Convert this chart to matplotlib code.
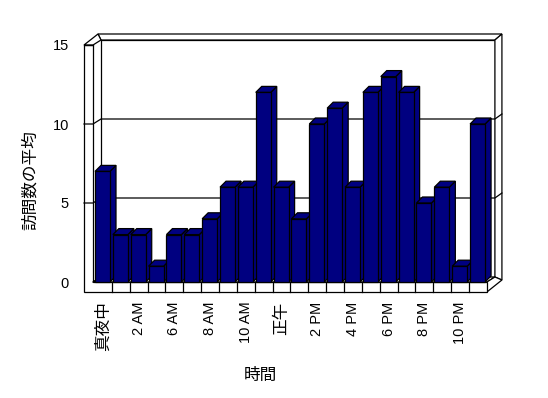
import matplotlib
matplotlib.use("Agg")
import matplotlib.pyplot as plt
from matplotlib.patches import Polygon
import numpy as np

## chart data: average visits by hour (4 AM and 5 AM have no data)
hours = ['真夜中', '1 AM', '2 AM', '3 AM', '6 AM', '7 AM', '8 AM', '9 AM',
         '10 AM', '11 AM', '正午', '1 PM', '2 PM', '3 PM', '4 PM', '5 PM',
         '6 PM', '7 PM', '8 PM', '9 PM', '10 PM', '11 PM']
visits = [7, 3, 3, 1, 3, 3, 4, 6, 6, 12, 6, 4, 10, 11, 6, 12, 13, 12, 5, 6, 1, 10]
y_ticks = [0, 5, 10, 15]
y_title = '訪問数の平均'
x_title = '時間'

## pseudo 3D look (Excel style), sizes in pixels
W, H = 548, 398
cw = 17.86      # pixels per category
sy = 15.8       # pixels per unit
navy = '#000080'
fam = ['Liberation Sans', 'Noto Sans CJK JP', 'DejaVu Sans']
cjk = ['Noto Sans CJK JP', 'DejaVu Sans']

fig = plt.figure(figsize=(W / 100, H / 100), dpi=100)
ax = fig.add_axes([80 / W, (H - 296) / H, 425 / W, 266 / H])
ax.set_xlim((80 - 94) / cw, (505 - 94) / cw)
ax.set_ylim((282 - 296) / sy, (282 - 30) / sy)
for s in ax.spines.values():
    s.set_visible(False)

n = len(visits)
top = max(y_ticks)
dx, dy = 8 / cw, 5 / sy            # depth of the box
xo, xi = -10 / cw, -1 / cw         # left wall outer / inner front edge
yb = -10 / sy                      # floor bottom
rx, ry = 7 / cw, 6 / sy            # wall thickness at the back

def poly(pts, z=1, fc='white'):
    ax.add_patch(Polygon(pts, closed=True, fc=fc, ec='black', lw=0.9, zorder=z))

# back wall, its top strip and the right wall
poly([(xi + dx, dy), (n + dx, dy), (n + dx, top + dy), (xi + dx, top + dy)])
poly([(xo + 14 / cw, top + 11 / sy), (n + dx + rx, top + 11 / sy),
      (n + dx, top + dy), (xi + dx, top + dy)])
poly([(n + dx, dy), (n + dx, top + dy), (n + dx + rx, top + 11 / sy),
      (n + dx + rx, 2 / sy)])
# floor top and right side
poly([(xi, 0), (n, 0), (n + dx, dy), (xi + dx, dy)])
poly([(n, 0), (n + dx, dy), (n + dx + rx, 2 / sy), (n, yb)])
# left wall top and front (L shape with the floor front)
poly([(xo, top), (xo + 14 / cw, top + 11 / sy), (xi + dx, top + dy), (xi, top)])
poly([(xo, top), (xi, top), (xi, 0), (n, 0), (n, yb), (xo, yb)])

# gridlines over the walls
for v in y_ticks[1:-1]:
    ax.plot([xo, xi, xi + dx, n + dx, n + dx + rx],
            [v, v, v + dy, v + dy, v + dy + 5 / sy], color='black', lw=0.9, zorder=1.5)
for v in y_ticks[:1]:
    ax.plot([xi, xi + dx], [v, v + dy], color='black', lw=0.9, zorder=1.5)
ax.plot([xo, xi], [top, top], color='black', lw=0.9, zorder=1.5)

# category marks on the floor front
for i in range(1, n):
    ax.plot([i, i], [0, yb], color='black', lw=0.9, zorder=1.5)

# bars: front faces through ax.bar, side and top faces from the same values
x0 = np.arange(n) + 1 / cw
bw = 15 / cw
bdx, bdy = 6 / cw, 6 / sy
for x, v in zip(x0, visits):
    poly([(x + bw, 0), (x + bw + bdx, bdy), (x + bw + bdx, v + bdy), (x + bw, v)], 2, navy)
    poly([(x, v), (x + bdx, v + bdy), (x + bw + bdx, v + bdy), (x + bw, v)], 2, navy)
ax.bar(x0, visits, bw, align='edge', color=navy, edgecolor='black', lw=0.9, zorder=3)

# ticks and labels
ax.set_yticks(y_ticks)
ax.set_yticklabels([str(v) for v in y_ticks], family=fam, fontsize=10.5)
ax.tick_params(axis='y', length=0, pad=8)
ax.set_xticks(np.arange(0, n, 2) + 0.5)
ax.set_xticklabels(hours[::2], rotation=90, family=fam, fontsize=10.5)
ax.tick_params(axis='x', length=0, pad=4)
for t in ax.get_xticklabels():
    if not t.get_text()[0].isdigit():
        t.set_family(cjk)
        t.set_fontsize(12)

fig.text(30 / W, 1 - 180 / H, y_title, rotation=90, ha='center', va='center',
         family=cjk, fontsize=12)
fig.text(260 / W, 1 - 375 / H, x_title, ha='center', va='center',
         family=cjk, fontsize=12)

fig.savefig('out.png', dpi=100)
